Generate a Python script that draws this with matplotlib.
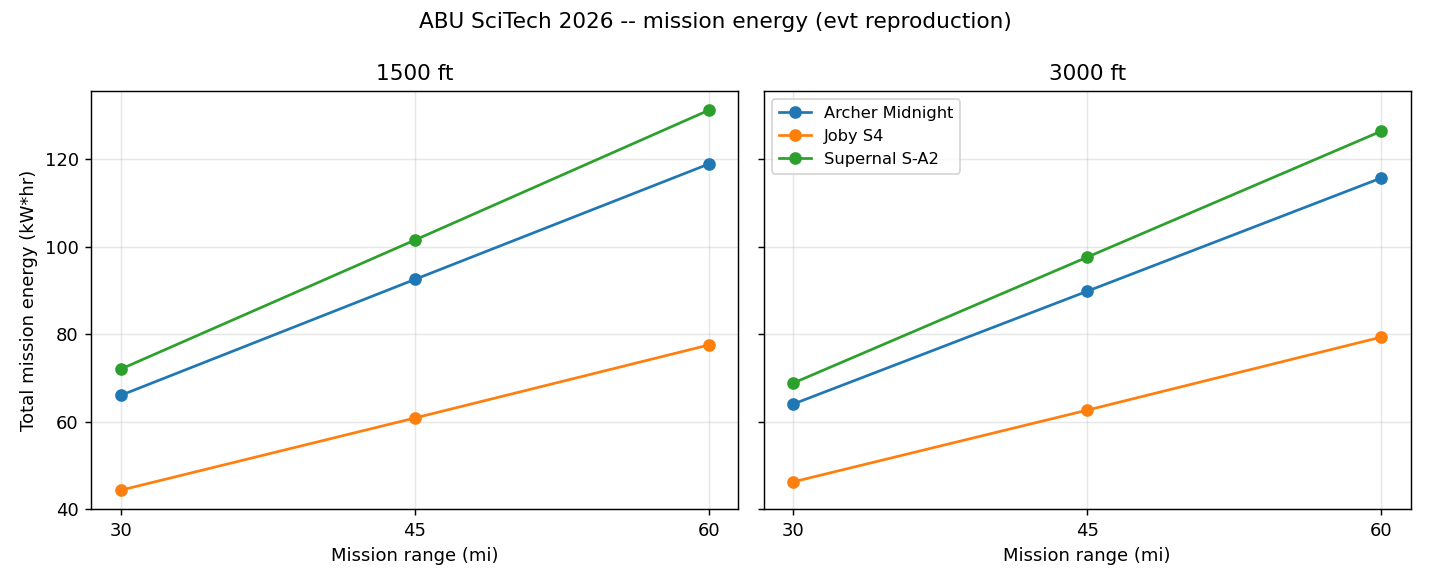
import matplotlib
matplotlib.use("Agg")
import matplotlib.pyplot as plt

ranges = [30, 45, 60]
altitudes = ["1500 ft", "3000 ft"]
aircraft = ["Archer Midnight", "Joby S4", "Supernal S-A2"]
energy_1500 = {
    "Archer Midnight": [66.0, 92.5, 118.9],
    "Joby S4": [44.3, 60.8, 77.5],
    "Supernal S-A2": [72.0, 101.5, 131.2],
}
energy_3000 = {
    "Archer Midnight": [64.0, 89.8, 115.7],
    "Joby S4": [46.2, 62.6, 79.3],
    "Supernal S-A2": [68.8, 97.6, 126.4],
}

fig, axes = plt.subplots(1, 2, figsize=(11, 4.5), dpi=130, sharey=True)
for ax, alt, data in zip(axes, altitudes, [energy_1500, energy_3000]):
    for name in aircraft:
        ax.plot(ranges, data[name], marker="o", label=name)
    ax.set_title(alt)
    ax.set_xlabel("Mission range (mi)")
    ax.set_xticks(ranges)
    ax.grid(True, alpha=0.3)
axes[0].set_ylabel("Total mission energy (kW*hr)")
axes[0].set_ylim(40, None)
axes[1].legend(loc="upper left", fontsize=9)
fig.suptitle("ABU SciTech 2026 -- mission energy (evt reproduction)")
fig.tight_layout()
fig.subplots_adjust(top=0.844, bottom=0.130)
fig.savefig("out.png", dpi=130)
